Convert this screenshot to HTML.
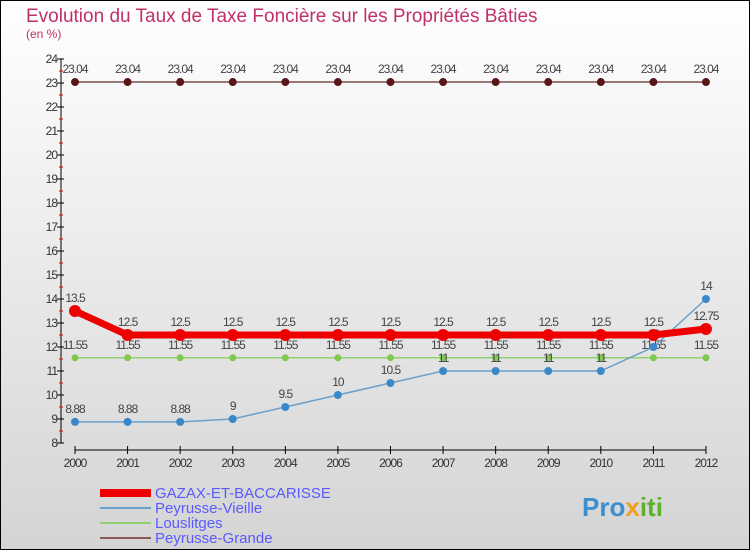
<!DOCTYPE html>
<html><head><meta charset="utf-8"><style>
body{margin:0}
#c{width:750px;height:550px;position:relative;overflow:hidden;font-family:"Liberation Sans",sans-serif}
</style></head><body>
<div id="c">
<svg id="s" width="750" height="550" xmlns="http://www.w3.org/2000/svg">
<defs><linearGradient id="bg" x1="0" y1="0" x2="0" y2="1"><stop offset="0" stop-color="#ffffff"/><stop offset="1" stop-color="#d4d4d4"/></linearGradient></defs>
<rect x="0.5" y="0.5" width="749" height="549" fill="url(#bg)" stroke="#000"/>
<text x="26" y="22" font-size="19" fill="#c0306a">Evolution du Taux de Taxe Foncière sur les Propriétés Bâties</text>
<text x="26" y="38" font-size="12" fill="#c0306a">(en %)</text>
<g id="axes"></g><g id="series"></g>
<g>
<rect x="100" y="489" width="51" height="8" fill="#ee0000"/>
<text x="155" y="498" font-size="15" fill="#5a5aff">GAZAX-ET-BACCARISSE</text>
<rect x="100" y="507" width="51" height="2" fill="#6aa0cc"/>
<text x="155" y="513" font-size="15" fill="#5a5aff">Peyrusse-Vieille</text>
<rect x="100" y="522" width="51" height="2" fill="#90d070"/>
<text x="155" y="528" font-size="15" fill="#5a5aff">Louslitges</text>
<rect x="100" y="537" width="51" height="2" fill="#8a5a5a"/>
<text x="155" y="543" font-size="15" fill="#5a5aff">Peyrusse-Grande</text>
</g>
<text x="582" y="516" font-size="26" font-weight="bold" fill="#3a8fd0">Pro<tspan fill="#f0a020">x</tspan><tspan fill="#60b030">iti</tspan></text>
</svg>
</div>
<script>
const years=[2000,2001,2002,2003,2004,2005,2006,2007,2008,2009,2010,2011,2012];
const gazax=[13.5,12.5,12.5,12.5,12.5,12.5,12.5,12.5,12.5,12.5,12.5,12.5,12.75];
const vieille=[8.88,8.88,8.88,9,9.5,10,10.5,11,11,11,11,12,14];
const louslitges=[11.55,11.55,11.55,11.55,11.55,11.55,11.55,11.55,11.55,11.55,11.55,11.55,11.55];
const grande=[23.04,23.04,23.04,23.04,23.04,23.04,23.04,23.04,23.04,23.04,23.04,23.04,23.04];
const yTicks=[8,9,10,11,12,13,14,15,16,17,18,19,20,21,22,23,24];
const NS="http://www.w3.org/2000/svg";
const X=i=>75+i*52.58, Y=v=>83+(23-v)*24;
function mk(t,a,p){const e=document.createElementNS(NS,t);for(const k in a)e.setAttribute(k,a[k]);p.appendChild(e);return e;}
const ax=document.getElementById('axes'), sr=document.getElementById('series');
let l=mk('line',{x1:61,y1:Y(24),x2:61,y2:Y(8),stroke:'#000'},ax);


l=mk('line',{x1:X(0),y1:450,x2:X(12),y2:450,stroke:'#000'},ax);


yTicks.forEach(v=>{
  mk('line',{x1:57,y1:Y(v),x2:64,y2:Y(v),stroke:'#000'},ax);
  if(v<24)mk('line',{x1:59,y1:Y(v+0.5),x2:63,y2:Y(v+0.5),stroke:'#e00'},ax);
  const t=mk('text',{x:57,y:Y(v)+4,'font-size':12,'text-anchor':'end',fill:'#333','letter-spacing':'-1'},ax);
  t.textContent=v;
  
  
});
years.forEach((yr,i)=>{
  mk('line',{x1:X(i),y1:446,x2:X(i),y2:454,stroke:'#000'},ax);
  const t=mk('text',{x:X(i),y:467,'font-size':12,'text-anchor':'middle',fill:'#333','letter-spacing':'-1'},ax);
  t.textContent=yr;
  
  
});
function series(arr,name,color,w,r,dot){
  const g=mk('g',{},sr);
  
  
  const p=mk('polyline',{points:arr.map((v,i)=>X(i)+','+Y(v)).join(' '),fill:'none',stroke:color,'stroke-width':w},g);
  
  
  arr.forEach((v,i)=>{
    const c=mk('circle',{cx:X(i),cy:Y(v),r:r,fill:dot},g);
    
    
    const t=mk('text',{x:X(i),y:Y(v)-9,'font-size':12,'text-anchor':'middle',fill:'#444','letter-spacing':'-1'},g);
    t.textContent=v;
    
    
  });
}
series(grande,'peyrusse-grande','#7a4a4a',1.5,4,'#5a1515');
series(louslitges,'louslitges','#90d070',1.5,3.5,'#80c850');
series(vieille,'peyrusse-vieille','#6aa0cc',1.5,4,'#3a88c8');
series(gazax,'gazax','#ee0000',7,6,'#ee0000');
</script>
</body></html>
